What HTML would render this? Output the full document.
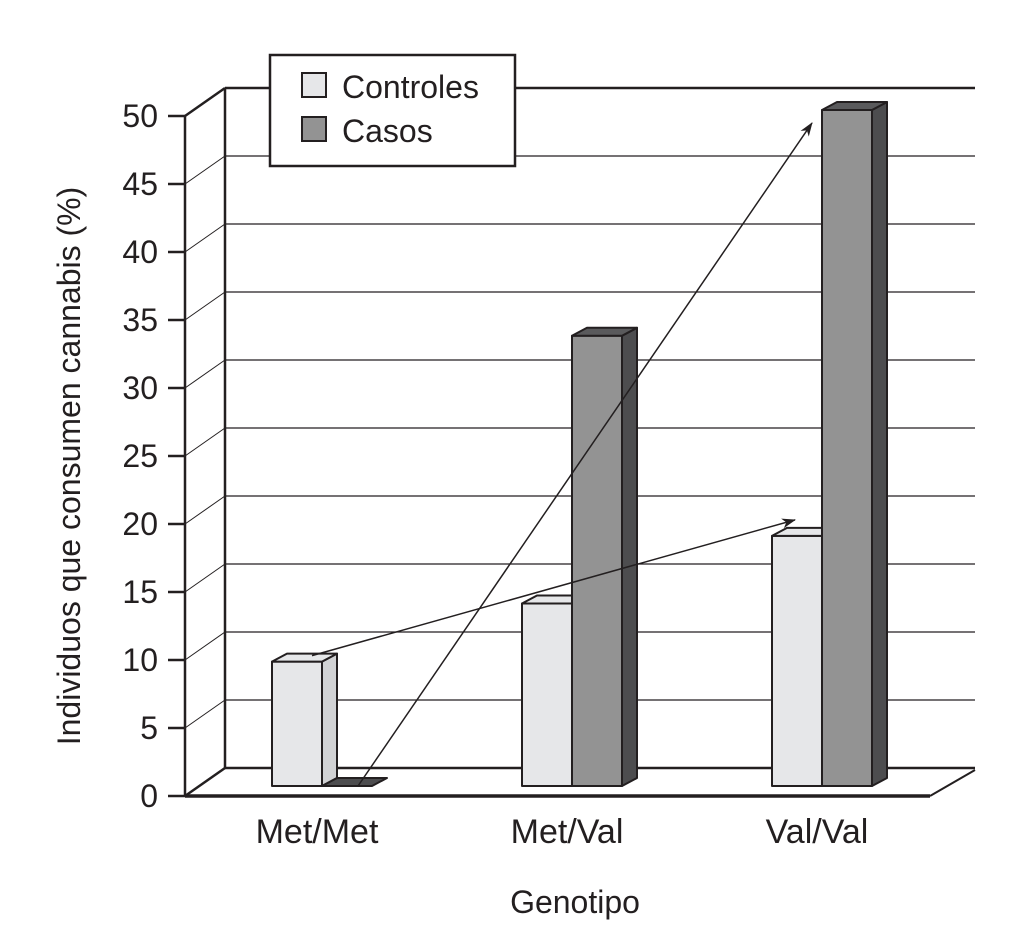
<!DOCTYPE html>
<html><head><meta charset="utf-8"><style>
body{margin:0;background:#fff}
svg text{font-family:"Liberation Sans",Arial,sans-serif;fill:#231f20}
</style></head><body>
<svg width="1033" height="933" viewBox="0 0 1033 933">
<defs><marker id="ah" markerWidth="14" markerHeight="10" refX="13" refY="5" orient="auto" markerUnits="userSpaceOnUse"><path d="M0,0 L14,5 L0,10 L4,5 Z" fill="#231f20"/></marker></defs>
<g id="axes"></g>
<g id="bars"></g>
<g id="arrows"></g>
<g>
<rect x="270" y="55" width="245" height="111" fill="#fff" stroke="#231f20" stroke-width="2.5"/>
<rect x="302" y="73" width="24" height="24" fill="#e6e7e9" stroke="#231f20" stroke-width="2"/>
<text x="342" y="98" font-size="32">Controles</text>
<rect x="302" y="117" width="24" height="24" fill="#939393" stroke="#231f20" stroke-width="2"/>
<text x="342" y="142" font-size="32">Casos</text>
</g>
<text transform="translate(80,466) rotate(-90)" text-anchor="middle" font-size="32">Individuos que consumen cannabis (%)</text>
<text x="575" y="913" text-anchor="middle" font-size="32">Genotipo</text>
</svg>
<script>
const categories=["Met/Met","Met/Val","Val/Val"];
const controles=[9.2,13.5,18.5];
const casos=[0,33.3,50];
const ticks=[0,5,10,15,20,25,30,35,40,45,50];
const NS="http://www.w3.org/2000/svg";
function mk(tag,at,parent){const e=document.createElementNS(NS,tag);for(const k in at)e.setAttribute(k,at[k]);parent.appendChild(e);return e;}
const yF=v=>796-v*13.6;
const yB=v=>786-v*13.52;
const DX=40,DY=-28;
const ax=document.getElementById('axes');
ticks.forEach(t=>{
  const y=yF(t);
  const g=mk('g',{},ax);
  
  
  mk('line',{x1:185,y1:y,x2:185+DX,y2:y+DY,stroke:'#231f20','stroke-width':t==0||t==50?2.5:1},g);
  mk('line',{x1:225,y1:y+DY,x2:975,y2:y+DY,stroke:'#231f20','stroke-width':t==0||t==50?2.5:1.2},g);
  mk('line',{x1:168,y1:y,x2:185,y2:y,stroke:'#231f20','stroke-width':2.5},g);
  const tx=mk('text',{x:158,y:y+11,'text-anchor':'end','font-size':32},g);tx.textContent=t;
  
  
});
mk('line',{x1:185,y1:yF(50),x2:185,y2:yF(0),stroke:'#231f20','stroke-width':2.5},ax);
mk('line',{x1:225,y1:yF(50)+DY,x2:225,y2:yF(0)+DY,stroke:'#231f20','stroke-width':2.5},ax);
mk('line',{x1:185,y1:yF(0),x2:930,y2:yF(0),stroke:'#231f20','stroke-width':3.5},ax);
mk('line',{x1:930,y1:yF(0),x2:975,y2:yF(0)+DY+2,stroke:'#231f20','stroke-width':2},ax);
const bg=document.getElementById('bars');
const bw=50,dx=15,dy=-8;
function bar(x,v,front,side,top,name){
  const g=mk('g',{},bg);
  
  
  const yt=yB(v),yb=yB(0);
  const st={stroke:'#231f20','stroke-width':2,'stroke-linejoin':'round'};
  if(v>0){
    mk('rect',Object.assign({x:x,y:yt,width:bw,height:yb-yt,fill:front},st),g);
    mk('polygon',Object.assign({points:`${x+bw},${yt} ${x+bw+dx},${yt+dy} ${x+bw+dx},${yb+dy} ${x+bw},${yb}`,fill:side},st),g);
  }
  mk('polygon',Object.assign({points:`${x},${yt} ${x+dx},${yt+dy} ${x+bw+dx},${yt+dy} ${x+bw},${yt}`,fill:top},st),g);
}
const xs=[272,522,772];
categories.forEach((c,i)=>{
  bar(xs[i],controles[i],'#e6e7e9','#d1d2d4','#e6e7e9','bar-controles-'+c);
  bar(xs[i]+bw,casos[i],'#939393','#4d4d4f',casos[i]>0?'#5a5a5c':'#4d4d4f','bar-casos-'+c);
  const t=mk('text',{x:xs[i]+45,y:843,'text-anchor':'middle','font-size':34},ax);
  t.textContent=c;
  
  
});
const ar=document.getElementById('arrows');
const a1=mk('line',{x1:xs[0]+40,y1:yB(controles[0])-6,x2:xs[2]+23,y2:yB(controles[2])-16,stroke:'#231f20','stroke-width':1.5,'marker-end':'url(#ah)'},ar);


const a2=mk('line',{x1:xs[0]+bw+36,y1:yB(casos[0]),x2:xs[2]+bw-10,y2:yB(casos[2])+13,stroke:'#231f20','stroke-width':1.5,'marker-end':'url(#ah)'},ar);


</script>
</body></html>
